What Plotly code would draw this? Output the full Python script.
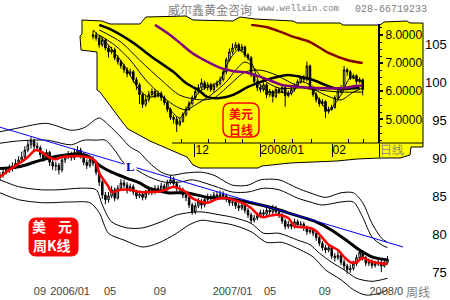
import plotly.graph_objects as go

# ================= weekly chart data (USD index, weekly candles) =================
weeks = list(range(126))
w_close = [87.8, 88.2, 88.5, 88.7, 89.0, 89.4, 89.8, 90.2, 91.1, 91.8,
           92.3, 91.6, 91.4, 90.5, 90.1, 90.8, 89.5, 89.0, 89.1, 88.5,
           89.8, 90.2, 90.5, 90.1, 90.8, 91.1, 90.5, 89.5, 89.1, 89.8,
           89.4, 88.2, 86.9, 85.2, 84.6, 85.1, 85.9, 84.8, 86.1, 86.8,
           86.5, 85.9, 86.3, 85.6, 85.1, 85.3, 84.9, 85.5, 85.9, 85.6,
           86.1, 85.9, 86.4, 86.0, 86.8, 87.2, 86.7, 86.1, 85.9, 85.2,
           84.9, 83.9, 83.0, 83.8, 84.3, 83.9, 84.6, 84.9, 84.7, 85.2,
           85.1, 85.3, 85.1, 84.7, 84.2, 84.3, 83.8, 83.5, 83.9, 83.2,
           82.6, 81.9, 82.2, 82.5, 82.9, 82.7, 83.2, 83.0, 83.5, 83.0,
           82.6, 81.8, 81.1, 81.4, 81.1, 81.7, 81.3, 81.4, 80.9, 80.4,
           80.6, 80.2, 79.6, 78.9, 78.3, 78.0, 78.3, 77.2, 77.0, 77.3,
           76.4, 75.9, 75.4, 75.6, 76.2, 77.0, 77.7, 77.0, 76.3, 76.4,
           76.0, 76.2, 76.4, 75.9, 76.4, 76.8]
w_high = [88.2, 88.6, 88.9, 89.2, 89.5, 89.9, 90.3, 90.9, 91.6, 92.4,
          92.8, 92.6, 92.1, 91.7, 90.9, 91.2, 91.0, 89.9, 89.6, 89.4,
          90.2, 90.6, 91.0, 90.9, 91.3, 91.6, 91.4, 90.8, 89.9, 90.2,
          90.3, 89.7, 88.5, 87.2, 85.6, 85.6, 86.4, 86.2, 86.5, 87.3,
          87.2, 86.9, 86.7, 86.6, 85.9, 85.8, 85.6, 85.9, 86.3, 86.2,
          86.5, 86.5, 86.8, 86.7, 87.2, 87.8, 87.6, 87.0, 86.5, 86.2,
          85.6, 85.2, 84.2, 84.2, 84.8, 84.7, 85.0, 85.4, 85.3, 85.6,
          85.7, 85.8, 85.7, 85.4, 85.0, 84.8, 84.6, 84.2, 84.3, 84.1,
          83.5, 82.9, 82.6, 82.9, 83.3, 83.3, 83.6, 83.6, 83.9, 83.8,
          83.3, 82.9, 82.1, 81.8, 81.8, 82.1, 82.0, 81.8, 81.7, 81.2,
          81.0, 80.9, 80.5, 79.9, 79.2, 78.7, 78.8, 78.6, 77.6, 77.8,
          77.6, 76.8, 76.2, 76.1, 76.6, 77.4, 78.1, 78.0, 77.2, 76.9,
          76.8, 76.6, 76.9, 76.7, 76.8, 77.2]
w_low = [87.2, 87.5, 87.9, 88.1, 88.3, 88.6, 89.0, 89.4, 89.9, 90.8,
         91.3, 91.0, 90.9, 90.1, 89.6, 89.8, 89.0, 88.5, 88.4, 87.9,
         88.2, 89.4, 89.9, 89.7, 89.8, 90.4, 90.0, 89.1, 88.6, 88.8,
         89.0, 87.8, 86.4, 84.7, 84.0, 84.2, 84.8, 84.4, 84.6, 85.8,
         86.1, 85.4, 85.6, 85.2, 84.7, 84.8, 84.5, 84.6, 85.2, 85.2,
         85.3, 85.5, 85.6, 85.6, 85.8, 86.6, 86.3, 85.7, 85.5, 84.8,
         84.4, 83.5, 82.6, 82.7, 83.5, 83.4, 83.6, 84.3, 84.3, 84.4,
         84.8, 84.9, 84.7, 84.3, 83.8, 83.8, 83.4, 83.1, 83.2, 82.8,
         82.2, 81.5, 81.6, 81.9, 82.2, 82.3, 82.4, 82.6, 82.7, 82.6,
         82.2, 81.4, 80.7, 80.8, 80.7, 80.8, 80.9, 80.9, 80.5, 80.0,
         80.1, 79.8, 79.2, 78.5, 77.9, 77.6, 77.7, 76.8, 76.5, 76.7,
         76.0, 75.4, 74.9, 75.0, 75.3, 75.9, 76.7, 76.6, 75.9, 75.9,
         75.6, 75.7, 75.9, 75.1, 75.7, 76.1]
w_first_open = 87.5
w_open = [w_first_open] + w_close[:-1]

ma_red_w = [0, 3, 6, 9, 11, 12, 14, 16, 18, 20, 23, 26, 29, 31, 32, 35, 36, 39, 42, 45,
            48, 52, 54, 56, 58, 60, 62, 65, 67, 70, 73, 75, 78, 81, 83, 85, 87, 90, 93, 95,
            97, 100, 102, 104, 106, 109, 111, 113, 115, 117, 119, 122, 125]
ma_red_v = [87.6, 88.5, 89.3, 90.2, 91.0, 91.1, 90.7, 90.1, 89.9, 90.2,
            90.3, 90.3, 90.1, 89.5, 88.1, 86.3, 85.6, 85.9, 85.9, 85.6,
            85.6, 85.7, 86.0, 86.3, 86.0, 85.6, 84.8, 84.3, 84.2, 84.7,
            84.8, 84.6, 84.2, 83.5, 82.7, 82.3, 82.5, 82.6, 82.2, 81.1,
            81.0, 80.9, 80.5, 79.6, 78.7, 78.0, 77.1, 76.4, 76.4, 77.0,
            76.6, 76.3, 76.2]
ma_blk_w = [0, 6, 11, 16, 22, 26, 29, 32, 36, 41, 45, 48, 54, 60, 67, 73, 81, 88, 95, 102,
            107, 112, 116, 120, 125]
ma_blk_v = [88.7, 88.9, 89.5, 90.1, 90.5, 90.6, 90.2, 89.1, 88.2, 87.4, 86.8, 86.1, 85.5,
            85.5, 84.9, 84.8, 84.2, 83.5, 82.6, 81.7, 80.6, 79.2, 78.0, 77.1, 76.7]

band_u2_w = [0, 6, 15, 23, 27, 32, 35, 39, 42, 45, 48, 52, 55, 60, 65, 69, 75, 80, 84, 90,
             96, 100, 105, 110, 114, 117, 120, 123, 125]
band_u2_v = [93.5, 94.0, 94.6, 93.7, 94.0, 95.3, 94.4, 92.8, 91.5, 90.8,
             89.5, 88.2, 87.8, 88.1, 88.2, 87.8, 86.5, 86.5, 87.2, 87.2,
             86.1, 85.5, 84.9, 85.5, 85.5, 84.2, 81.5, 79.6, 79.0]
band_u1_w = [0, 6, 15, 23, 27, 31, 34, 37, 40, 44, 48, 53, 58, 62, 69, 75, 80, 85, 90, 96,
             100, 104, 110, 114, 117, 120, 123, 125]
band_u1_v = [92.0, 92.3, 92.4, 91.8, 92.4, 92.4, 92.4, 91.1, 89.4, 88.5,
             87.6, 86.9, 86.9, 87.2, 86.4, 85.6, 85.6, 86.1, 85.9, 84.8,
             84.3, 83.9, 84.3, 84.3, 82.3, 79.7, 78.7, 78.3]
band_l1_w = [0, 6, 13, 19, 26, 31, 33, 36, 41, 46, 52, 57, 61, 65, 71, 75, 81, 85, 90, 96,
             100, 103, 107, 111, 115, 120, 125]
band_l1_v = [87.2, 86.3, 85.9, 85.9, 86.1, 85.9, 83.9, 81.7, 80.9, 80.9,
             81.7, 82.6, 82.9, 83.0, 82.6, 82.3, 81.5, 80.2, 80.2, 79.3,
             78.7, 77.6, 76.4, 75.4, 74.3, 73.9, 74.3]
band_l2_w = [0, 6, 14, 23, 29, 32, 35, 40, 46, 51, 57, 61, 65, 69, 75, 81, 86, 91, 97, 101,
             105, 110, 114, 118, 123, 125]
band_l2_v = [85.5, 84.6, 84.2, 84.3, 84.2, 82.9, 80.2, 79.3, 78.4, 78.9,
             80.2, 81.3, 81.9, 81.7, 81.3, 80.4, 79.0, 79.0, 78.0, 77.1,
             75.4, 74.1, 72.8, 72.1, 72.4, 72.8]

trend_w = [0, 130]
trend_v = [94.1, 78.4]

w_tick_pos = [12.9, 22.6, 35.5, 51.6, 75.0, 87.1, 104.8, 124.6]
w_tick_text = ['09', '2006/01', '05', '09', '2007/01', '05', '09', '2008/0']
w_ytick_vals = [75, 80, 85, 90, 95, 100, 105]

# ================= daily inset data =================
days = list(range(88))
d_close = [8.00, 7.89, 7.65, 7.82, 7.54, 7.40, 7.47, 7.19, 7.05, 6.90,
           6.76, 6.62, 6.69, 6.41, 6.23, 5.88, 5.53, 5.70, 5.88, 5.99,
           5.84, 5.92, 5.77, 5.60, 5.35, 5.07, 5.00, 4.82, 4.93, 5.17,
           5.35, 5.56, 5.77, 5.99, 6.13, 6.30, 6.13, 6.23, 6.06, 6.20,
           6.27, 6.41, 6.69, 7.12, 7.40, 7.54, 7.65, 7.47, 7.58, 7.29,
           7.19, 6.59, 6.34, 6.13, 6.06, 6.23, 5.88, 5.99, 5.81, 6.06,
           5.99, 6.13, 5.84, 5.92, 6.06, 6.20, 6.34, 6.48, 6.41, 6.90,
           6.13, 5.88, 5.70, 5.56, 5.63, 5.28, 5.35, 5.42, 5.77, 5.99,
           6.13, 6.76, 6.69, 6.48, 6.55, 6.34, 6.41, 6.06]
d_high = [8.15, 8.10, 7.98, 7.92, 7.88, 7.62, 7.58, 7.55, 7.28, 7.12,
          6.98, 6.85, 6.80, 6.75, 6.50, 6.30, 5.95, 5.85, 6.00, 6.10,
          6.08, 6.02, 6.00, 5.85, 5.68, 5.42, 5.15, 5.10, 5.05, 5.25,
          5.45, 5.65, 5.85, 6.10, 6.25, 6.45, 6.38, 6.32, 6.30, 6.28,
          6.38, 6.52, 6.78, 7.20, 7.52, 7.70, 7.75, 7.72, 7.68, 7.62,
          7.35, 7.25, 6.65, 6.42, 6.25, 6.32, 6.30, 6.08, 6.05, 6.15,
          6.12, 6.22, 6.18, 6.02, 6.15, 6.28, 6.42, 6.55, 6.58, 7.05,
          6.95, 6.20, 5.95, 5.78, 5.72, 5.68, 5.45, 5.52, 5.85, 6.08,
          6.22, 6.90, 6.82, 6.75, 6.62, 6.60, 6.50, 6.45]
d_low = [7.85, 7.80, 7.55, 7.58, 7.45, 7.20, 7.32, 7.10, 6.95, 6.80,
         6.65, 6.50, 6.55, 6.30, 6.05, 5.55, 5.40, 5.45, 5.62, 5.80,
         5.75, 5.78, 5.65, 5.50, 5.25, 4.98, 4.85, 4.55, 4.75, 4.88,
         5.10, 5.30, 5.50, 5.70, 5.92, 6.05, 6.05, 6.02, 5.98, 5.95,
         6.12, 6.20, 6.35, 6.60, 7.05, 7.32, 7.45, 7.40, 7.40, 7.20,
         7.10, 6.50, 6.20, 6.00, 5.95, 5.98, 5.75, 5.80, 5.60, 5.75,
         5.90, 5.92, 5.45, 5.78, 5.85, 5.98, 6.12, 6.28, 6.32, 6.35,
         6.05, 5.80, 5.60, 5.45, 5.48, 5.05, 5.20, 5.30, 5.38, 5.70,
         5.92, 6.08, 6.55, 6.40, 6.42, 6.25, 6.28, 5.85]
d_first_open = 7.95
d_open = [d_first_open] + d_close[:-1]

purple_d = [20, 24, 28, 32, 37, 41, 45, 50, 54, 56, 61, 67, 72, 81, 85, 87]
purple_v = [8.36, 8.07, 7.72, 7.36, 7.04, 6.83, 6.72, 6.65, 6.51, 6.43, 6.22, 6.15, 6.11,
            6.11, 6.19, 6.19]
maroon_d = [51, 57, 64, 70, 76, 82, 87]
maroon_v = [8.36, 8.25, 7.96, 7.75, 7.36, 7.11, 7.00]
dblk_d = [2, 6, 13, 19, 26, 30, 34, 37, 41, 45, 50, 53, 58, 63, 67, 71, 75, 79, 82, 86]
dblk_v = [8.36, 8.18, 7.72, 7.22, 6.68, 6.29, 6.04, 5.79, 5.76, 5.86, 6.15, 6.29, 6.47,
          6.58, 6.51, 6.40, 6.22, 6.08, 6.08, 6.11]
thin_a_d = [0, 5, 10, 15, 18, 22, 25, 28, 31, 35, 38, 41, 44, 47, 51, 54, 57, 60, 64, 67,
            70, 73, 76, 80, 83, 87]
thin_a_v = [8.18, 7.64, 6.93, 6.04, 5.79, 5.83, 5.33, 5.05, 5.51, 6.04, 6.19, 6.40, 7.11,
            7.47, 7.04, 6.22, 5.97, 5.97, 5.94, 6.33, 6.22, 5.69, 5.33, 5.86, 6.47, 6.33]
thin_b_d = [2, 7, 12, 17, 22, 26, 30, 33, 38, 43, 46, 49, 52, 55, 60, 65, 70, 75, 80, 84, 87]
thin_b_v = [8.00, 7.64, 7.11, 6.40, 5.86, 5.51, 5.33, 5.51, 5.86, 6.33, 6.75, 7.04, 6.83,
            6.40, 6.11, 6.11, 6.11, 5.86, 5.69, 5.97, 6.11]
thin_c_d = [2, 9, 15, 22, 28, 35, 39, 44, 49, 54, 59, 64, 68, 73, 80, 87]
thin_c_v = [8.18, 7.75, 7.11, 6.40, 5.86, 5.69, 5.76, 6.22, 6.68, 6.75, 6.58, 6.29, 6.11,
            6.04, 5.97, 5.97]

d_tick_pos = [32.9, 53.9, 77.1, 92.3]
d_tick_text = ['12', '2008/01', '02', '<span style="color:#808080">日线</span>']
d_minor_pos = [28.7, 37.1, 42.6, 48.1, 58.7, 64.5, 70.6, 82.3, 87.1]
d_ytick_vals = [5, 6, 7, 8]

# ================= layout constants (pixels) =================
W, H = 450, 300
W_PX = 3.1            # px per week
D_PX = 3.1            # px per day in inset
D0_PX = 93            # px of first daily candle
MAIN_RIGHT = 424
Y_TOP, Y_BOT = 110.77, 71.45
IN_L, IN_R, IN_T, IN_B = 82, 423, 24, 143
IN_YAX = 379
IN_V_PX = 28.1        # px per unit in inset
IN_V_REF, IN_V_REF_PX = 8.0, 35

fig = go.Figure()

def line_tr(x, y, color, width, axes=('x', 'y')):
    return go.Scatter(x=x, y=y, mode='lines', xaxis=axes[0], yaxis=axes[1],
                      line=dict(color=color, width=width, shape='spline', smoothing=0.8),
                      hoverinfo='skip', showlegend=False)

# ---- main weekly chart ----
for bw, bv in [(band_u2_w, band_u2_v), (band_u1_w, band_u1_v),
               (band_l1_w, band_l1_v), (band_l2_w, band_l2_v)]:
    fig.add_trace(line_tr(bw, bv, 'black', 1))
fig.add_trace(go.Candlestick(
    x=weeks, open=w_open, high=w_high, low=w_low, close=w_close,
    increasing=dict(line=dict(color='black', width=1), fillcolor='white'),
    decreasing=dict(line=dict(color='black', width=1), fillcolor='black'),
    whiskerwidth=0, hoverinfo='skip', showlegend=False))
fig.add_trace(line_tr(ma_blk_w, ma_blk_v, 'black', 3))
fig.add_trace(line_tr(ma_red_w, ma_red_v, '#ff0000', 2.5))
fig.add_trace(go.Scatter(x=trend_w, y=trend_v, mode='lines', line=dict(color='#0000ff', width=1),
                         hoverinfo='skip', showlegend=False))

# ---- pixel-space overlay subplot (for inset background) ----
fig.add_trace(go.Scatter(x=[None], y=[None], xaxis='x2', yaxis='y2', mode='lines',
                         hoverinfo='skip', showlegend=False))

# ---- daily inset ----
fig.add_trace(go.Candlestick(
    x=days, open=d_open, high=d_high, low=d_low, close=d_close, xaxis='x3', yaxis='y3',
    increasing=dict(line=dict(color='black', width=1), fillcolor='white'),
    decreasing=dict(line=dict(color='black', width=1), fillcolor='black'),
    whiskerwidth=0, hoverinfo='skip', showlegend=False))
for dd, dv in [(thin_a_d, thin_a_v), (thin_b_d, thin_b_v), (thin_c_d, thin_c_v)]:
    fig.add_trace(line_tr(dd, dv, 'black', 1, ('x3', 'y3')))
fig.add_trace(line_tr(dblk_d, dblk_v, 'black', 2.5, ('x3', 'y3')))
fig.add_trace(line_tr(purple_d, purple_v, '#800080', 2.5, ('x3', 'y3')))
fig.add_trace(line_tr(maroon_d, maroon_v, '#800000', 2.5, ('x3', 'y3')))

# ---- decorations ----
yellow_poly = [(82, 20), (102, 21), (110, 24), (140, 24), (146, 17), (186, 16), (193, 20),
               (233, 21), (240, 17), (255, 19), (293, 21), (297, 23), (340, 23), (343, 25),
               (380, 25), (384, 22), (407, 21), (410, 23), (423, 23), (423, 147), (411, 147),
               (410, 155), (400, 158), (380, 158), (357, 159), (337, 161), (290, 163),
               (262, 166), (258, 168), (200, 168), (193, 165), (187, 157), (173, 151),
               (150, 141), (128, 129), (123, 123), (100, 92), (97, 90), (97, 52), (81, 50),
               (80, 36), (82, 34)]
poly_path = 'M ' + ' L '.join(f'{x},{y}' for x, y in yellow_poly) + ' Z'


def rrect(x0, y0, x1, y1, r):
    return (f'M {x0+r},{y0} L {x1-r},{y0} Q {x1},{y0} {x1},{y0+r} L {x1},{y1-r} '
            f'Q {x1},{y1} {x1-r},{y1} L {x0+r},{y1} Q {x0},{y1} {x0},{y1-r} '
            f'L {x0},{y0+r} Q {x0},{y0} {x0+r},{y0} Z')


shapes = [
    dict(type='path', path=poly_path, xref='x2', yref='y2', layer='below',
         fillcolor='#ffff00', line=dict(color='black', width=1)),
    dict(type='line', x0=172, x1=423, y0=IN_B, y1=IN_B, xref='x2', yref='y2', layer='below',
         line=dict(color='black', width=1)),
    dict(type='path', path=rrect(29, 218, 78, 256, 7), xref='x2', yref='y2', layer='above',
         fillcolor='#ff0000', line=dict(color='#ff0000', width=1)),
    dict(type='path', path=rrect(223, 103, 259, 137, 8), xref='x2', yref='y2', layer='above',
         fillcolor='rgba(0,0,0,0)', line=dict(color='#ff0000', width=1.5)),
]

cjk = 'Noto Sans CJK SC'
ann = [
    dict(x=166, y=9, text='威尔鑫黄金咨询', xanchor='left', yanchor='middle',
         font=dict(family=cjk, size=12, color='#808080')),
    dict(x=256, y=9, text='www.wellxin.com', xanchor='left', yanchor='middle',
         font=dict(family='Liberation Mono', size=9, color='#808080')),
    dict(x=353, y=9, text='028-66719233', xanchor='left', yanchor='middle',
         font=dict(family='Liberation Mono', size=10, color='#808080')),
    dict(x=38.5, y=226, text='<b>美</b>', font=dict(family=cjk, size=14, color='white')),
    dict(x=64.5, y=226, text='<b>元</b>', font=dict(family=cjk, size=14, color='white')),
    dict(x=52, y=245, text='<b>周K线</b>', font=dict(family=cjk, size=14, color='white')),
    dict(x=241, y=121, text='<b>美元</b><br><b>日线</b>', borderpad=0,
         font=dict(family=cjk, size=12, color='#ff0000')),
    dict(x=130, y=166, text='<b>L</b>', bgcolor='white', borderpad=1,
         font=dict(family='Liberation Serif', size=13, color='#000099')),
    dict(x=405, y=291, text='周线', xanchor='left', yanchor='middle', borderpad=0,
         font=dict(family=cjk, size=12, color='#808080')),
]
for a in ann:
    a.update(xref='x2', yref='y2', showarrow=False)
    a.setdefault('xanchor', 'center')
    a.setdefault('yanchor', 'middle')

w_ytick_text = [('\u2007' + str(v)) if v < 100 else str(v) for v in w_ytick_vals]

fig.update_layout(
    width=W, height=H, margin=dict(l=0, r=0, t=0, b=0),
    paper_bgcolor='white', plot_bgcolor='rgba(0,0,0,0)', showlegend=False,
    font=dict(family='Liberation Sans, Arial, sans-serif', size=12, color='black'),
    shapes=shapes, annotations=ann,
    xaxis=dict(domain=[0, MAIN_RIGHT / W], range=[0, MAIN_RIGHT / W_PX], anchor='y',
               showgrid=False, zeroline=False, showline=False, ticks='',
               tickmode='array', tickvals=w_tick_pos, ticktext=w_tick_text,
               ticklabelposition='inside', tickfont=dict(size=11),
               rangeslider=dict(visible=False), fixedrange=True),
    yaxis=dict(domain=[0, 1], range=[Y_BOT, Y_TOP], anchor='x', side='right',
               showgrid=False, zeroline=False, showline=False, ticks='',
               tickmode='array', tickvals=w_ytick_vals, ticktext=w_ytick_text,
               tickfont=dict(size=13), fixedrange=True),
    xaxis2=dict(domain=[0, 1], range=[0, W], anchor='y2', visible=False, fixedrange=True),
    yaxis2=dict(domain=[0, 1], range=[H, 0], anchor='x2', visible=False, fixedrange=True),
    xaxis3=dict(domain=[IN_L / W, IN_R / W],
                range=[(IN_L - D0_PX) / D_PX, (IN_R - D0_PX) / D_PX], anchor='y3',
                showgrid=False, zeroline=False, showline=False,
                tickmode='array', tickvals=d_tick_pos, ticktext=d_tick_text,
                ticks='outside', ticklen=13, tickwidth=1, tickcolor='black',
                ticklabelposition='outside right', ticklabelstandoff=-4,
                tickfont=dict(size=12),
                minor=dict(tickmode='array', tickvals=d_minor_pos, ticks='inside',
                           ticklen=4, tickwidth=1, tickcolor='black', showgrid=False),
                rangeslider=dict(visible=False), fixedrange=True),
    yaxis3=dict(domain=[1 - IN_B / H, 1 - IN_T / H],
                range=[IN_V_REF - (IN_B - IN_V_REF_PX) / IN_V_PX,
                       IN_V_REF + (IN_V_REF_PX - IN_T) / IN_V_PX],
                anchor='free', position=IN_YAX / W, side='right',
                showgrid=False, zeroline=False, showline=True, linewidth=2, linecolor='black',
                tickmode='array', tickvals=d_ytick_vals, tickformat='.4f',
                ticks='outside', ticklen=3, tickwidth=2, tickcolor='black',
                tickfont=dict(size=12),
                minor=dict(dtick=0.25, ticks='outside', ticklen=2, tickwidth=1,
                           tickcolor='black', showgrid=False),
                fixedrange=True),
)

fig.write_html('out.html', config={'displayModeBar': False})
